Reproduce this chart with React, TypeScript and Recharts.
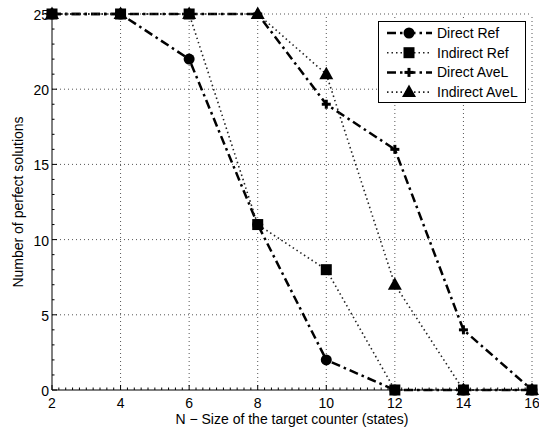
import React from 'react';
import { LineChart, Line, XAxis, YAxis, ReferenceLine, Legend } from 'recharts';

// ---- data ----
const nValues = [2, 4, 6, 8, 10, 12, 14, 16];
const directRef = [25, 25, 22, 11, 2, 0, 0, 0];
const indirectRef = [25, 25, 25, 11, 8, 0, 0, 0];
const directAveL = [25, 25, 25, 25, 19, 16, 4, 0];
const indirectAveL = [25, 25, 25, 25, 21, 7, 0, 0];

const xMajorTicks = [2, 4, 6, 8, 10, 12, 14, 16];
const yMajorTicks = [0, 5, 10, 15, 20, 25];
const xMinorPerMajor = 10;
const yMinorPerMajor = 5;

const seriesNames = ['Direct Ref', 'Indirect Ref', 'Direct AveL', 'Indirect AveL'];
const seriesKeys = ['directRef', 'indirectRef', 'directAveL', 'indirectAveL'];
const seriesValues = [directRef, indirectRef, directAveL, indirectAveL];

// ---- styles ----
const FONT = 'Liberation Sans, Arial, Helvetica, sans-serif';
const seriesStyles = [
  { marker: 'circle', dash: '9 4 2.5 4', width: 2.5, color: '#000' },
  { marker: 'square', dash: '1.5 3', width: 1.6, color: '#222' },
  { marker: 'plus', dash: '9 4 2.5 4', width: 2.5, color: '#000' },
  { marker: 'triangle', dash: '1.5 3', width: 1.6, color: '#222' },
];

const data = nValues.map((n, i) => {
  const row: any = { n };
  seriesKeys.forEach((k, s) => (row[k] = seriesValues[s][i]));
  return row;
});

function subdivide(majors: number[], per: number): number[] {
  const out: number[] = [];
  for (let i = 0; i < majors.length - 1; i++) {
    const a = majors[i];
    const b = majors[i + 1];
    for (let k = 0; k < per; k++) out.push(Math.round((a + ((b - a) * k) / per) * 1000) / 1000);
  }
  out.push(majors[majors.length - 1]);
  return out;
}
const xTicks = subdivide(xMajorTicks, xMinorPerMajor);
const yTicks = subdivide(yMajorTicks, yMinorPerMajor);

function Marker({ type, cx, cy }: { type: string; cx: number; cy: number }) {
  if (type === 'circle') return <circle cx={cx} cy={cy} r={5.5} fill="#000" />;
  if (type === 'square') return <rect x={cx - 5.5} y={cy - 5.5} width={11} height={11} fill="#000" />;
  if (type === 'triangle')
    return <polygon points={`${cx},${cy - 7.5} ${cx - 7},${cy + 5} ${cx + 7},${cy + 5}`} fill="#000" />;
  return (
    <g stroke="#000" strokeWidth={3}>
      <line x1={cx - 4.5} x2={cx + 4.5} y1={cy} y2={cy} />
      <line x1={cx} x2={cx} y1={cy - 4.5} y2={cy + 4.5} />
    </g>
  );
}

const XTick = (props: any) => {
  const { x, y, payload } = props;
  const v = payload.value;
  const major = xMajorTicks.includes(v);
  return (
    <g>
      <line x1={x} x2={x} y1={y} y2={y - (major ? 5 : 2.5)} stroke="#000" strokeWidth={1} />
      {major && (
        <text x={x} y={y + 18} textAnchor="middle" fontSize={14} fontFamily={FONT} fill="#000">
          {v}
        </text>
      )}
    </g>
  );
};

const YTick = (props: any) => {
  const { x, y, payload } = props;
  const v = payload.value;
  const major = yMajorTicks.includes(v);
  return (
    <g>
      <line x1={x} x2={x + (major ? 5 : 2.5)} y1={y} y2={y} stroke="#000" strokeWidth={1} />
      {major && (
        <text x={x - 3} y={y + 6} textAnchor="end" fontSize={14} fontFamily={FONT} fill="#000">
          {v}
        </text>
      )}
    </g>
  );
};

const renderLegend = () => (
  <svg width={148} height={82} style={{ display: 'block' }}>
    <rect x={0.5} y={0.5} width={147} height={81} fill="#fff" stroke="#000" strokeWidth={1} />
    {seriesNames.map((name, i) => {
      const st = seriesStyles[i];
      const cy = 12 + i * 19.7;
      return (
        <g key={name}>
          <line x1={9} x2={54} y1={cy} y2={cy} stroke={st.color} strokeWidth={st.width} strokeDasharray={st.dash} />
          <Marker type={st.marker} cx={31} cy={cy} />
          <text x={59} y={cy + 5} fontSize={14} fontFamily={FONT} fill="#000">
            {name}
          </text>
        </g>
      );
    })}
  </svg>
);

export default function App() {
  return (
    <div style={{ position: 'absolute', left: 0, top: 0, background: '#fff' }}>
      <LineChart width={539} height={433} data={data} margin={{ top: 14, right: 7, bottom: 0, left: 0 }}>
        {xMajorTicks.slice(1).map((v) => (
          <ReferenceLine key={`gx${v}`} x={v} stroke="#555" strokeDasharray="1 3" strokeWidth={1} />
        ))}
        {yMajorTicks.slice(1).map((v) => (
          <ReferenceLine key={`gy${v}`} y={v} stroke="#555" strokeDasharray="1 3" strokeWidth={1} />
        ))}
        <XAxis
          dataKey="n"
          type="number"
          domain={[2, 16]}
          ticks={xTicks}
          interval={0}
          height={43}
          tickSize={0}
          tickMargin={0}
          tickLine={false}
          tick={XTick}
          axisLine={{ stroke: '#000', strokeWidth: 1 }}
          label={{
            content: (p: any) => {
              const vb = p.viewBox;
              return (
                <text x={vb.x + vb.width / 2} y={vb.y + 34} textAnchor="middle" fontSize={14} fontFamily={FONT} fill="#000">
                  N − Size of the target counter (states)
                </text>
              );
            },
          }}
        />
        <YAxis
          type="number"
          domain={[0, 25]}
          ticks={yTicks}
          interval={0}
          width={52}
          tickSize={0}
          tickMargin={0}
          tickLine={false}
          tick={YTick}
          axisLine={{ stroke: '#000', strokeWidth: 1 }}
          label={{
            content: (p: any) => {
              const vb = p.viewBox;
              const cx = vb.x + 18;
              const cy = vb.y + vb.height / 2;
              return (
                <text
                  x={cx}
                  y={cy}
                  transform={`rotate(-90, ${cx}, ${cy})`}
                  textAnchor="middle"
                  dominantBaseline="central"
                  fontSize={14}
                  fontFamily={FONT}
                  fill="#000"
                >
                  Number of perfect solutions
                </text>
              );
            },
          }}
        />
        <Legend
          layout="vertical"
          align="center"
          verticalAlign="middle"
          wrapperStyle={{ top: 21, left: 378, width: 148, height: 82 }}
          content={renderLegend}
        />
        {seriesKeys.map((k, i) => {
          const st = seriesStyles[i];
          return (
            <Line
              key={k}
              dataKey={k}
              name={seriesNames[i]}
              type="linear"
              stroke={st.color}
              strokeWidth={st.width}
              strokeDasharray={st.dash}
              isAnimationActive={false}
              dot={(p: any) => <Marker key={`${k}-${p.index}`} type={st.marker} cx={p.cx} cy={p.cy} />}
              activeDot={false}
            />
          );
        })}
      </LineChart>
    </div>
  );
}
